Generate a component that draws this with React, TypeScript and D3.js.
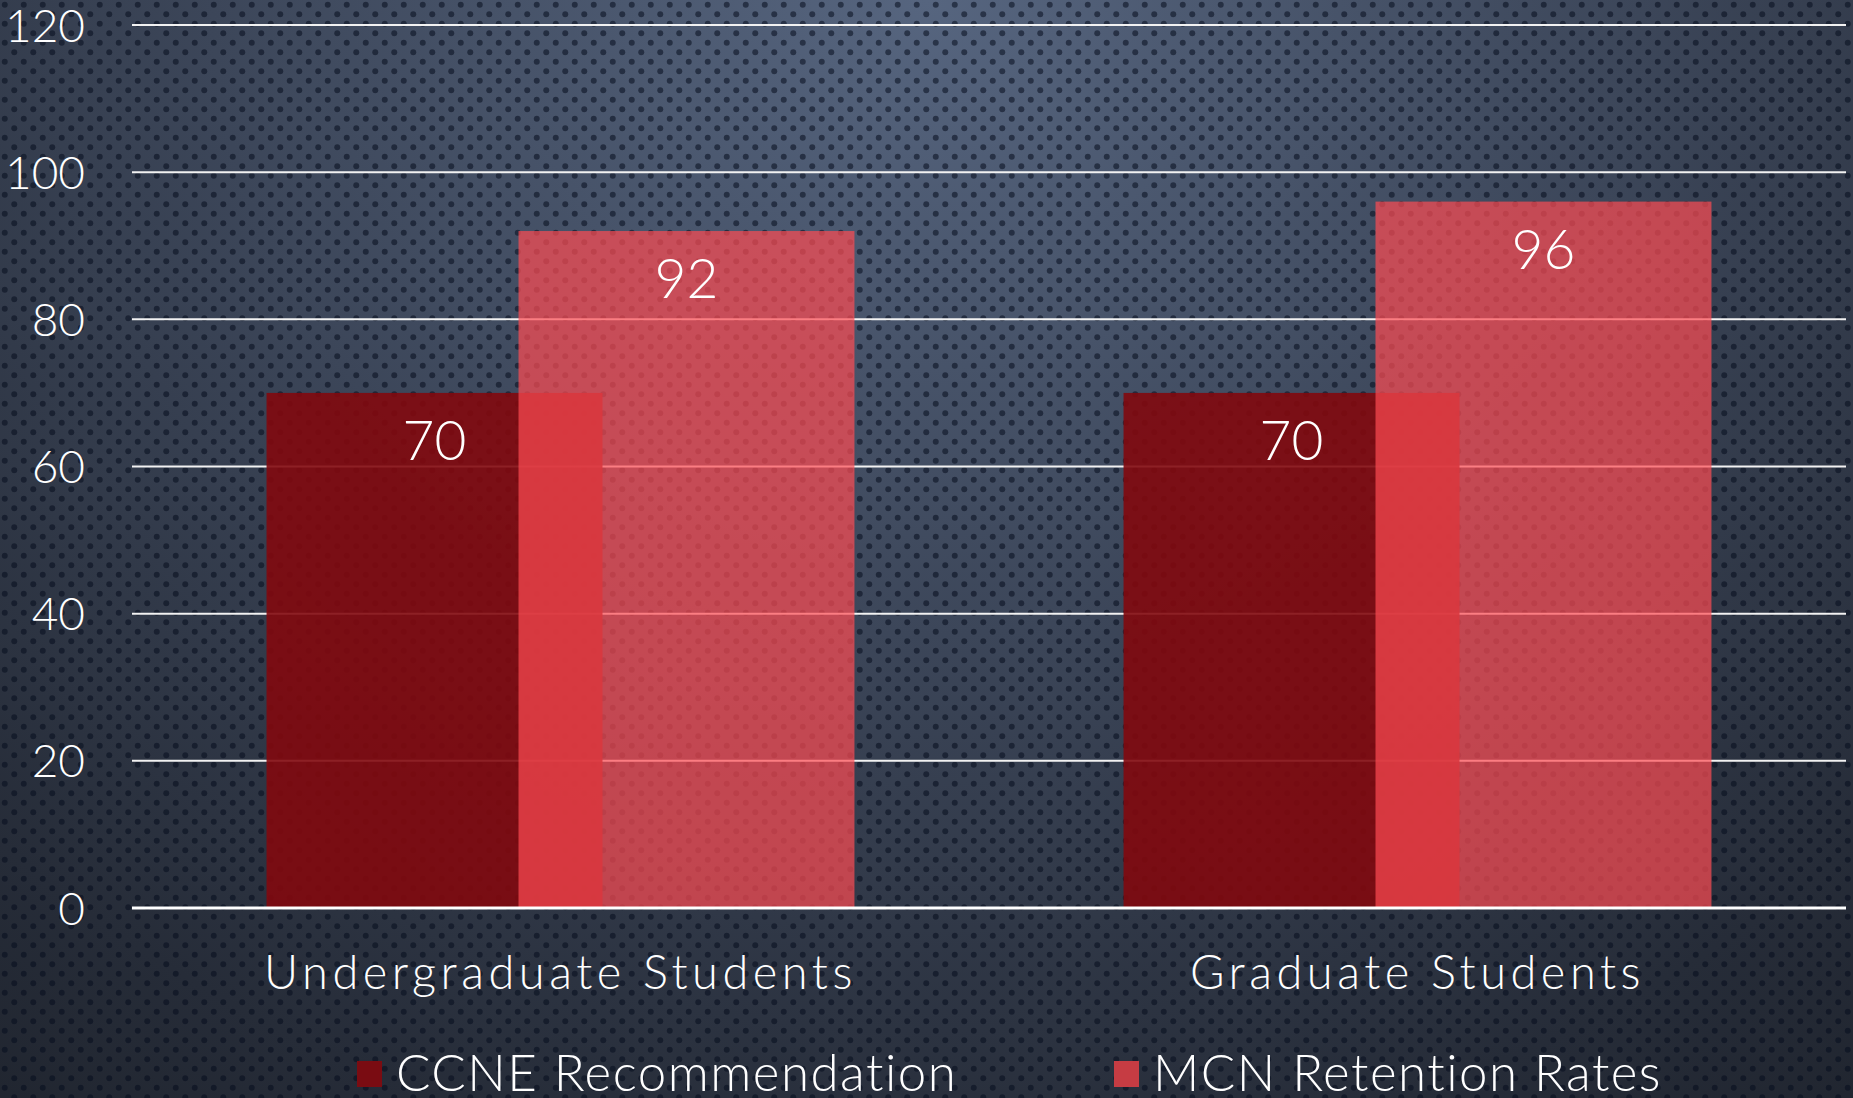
import React from "react";
import * as d3 from "d3";

const categories = ["Undergraduate Students", "Graduate Students"];
const seriesNames = ["CCNE Recommendation", "MCN Retention Rates"];
const ccneValues = [70, 70];
const mcnValues = [92, 96];
const yTicks = [0, 20, 40, 60, 80, 100, 120];

const W = 1853;
const H = 1098;
const FONT = "Lato, 'Open Sans', 'DejaVu Sans', sans-serif";

export default function App() {
  React.useEffect(() => {
    document.body.style.margin = "0";
    document.body.style.background = "#1a1d24";
  }, []);

  const x = d3.scaleBand<string>().domain(categories).range([132, 1846]).padding(0);
  const y = d3.scaleLinear().domain([0, 120]).range([908, 25]);
  const bw = x.bandwidth() * 0.392;
  const step = bw * 0.75;
  const groupW = bw + step;

  const series = [
    { name: seriesNames[0], values: ccneValues, idx: 0, fill: "rgb(130,9,14)", opacity: 0.9 },
    { name: seriesNames[1], values: mcnValues, idx: 1, fill: "rgb(255,76,82)", opacity: 0.7 },
  ];

  const barX = (cat: string, idx: number) =>
    (x(cat) as number) + x.bandwidth() / 2 - groupW / 2 + idx * step;

  const legendItems = [
    { name: seriesNames[0], sq: 357, fill: "#7a0c12" },
    { name: seriesNames[1], sq: 1114, fill: "#c63c43" },
  ];

  return (
    <svg width={W} height={H} style={{ position: "absolute", left: 0, top: 0, display: "block" }}>
      <defs>
        <radialGradient id="bg" cx="50%" cy="0%" r="110%" fx="50%" fy="0%" gradientUnits="objectBoundingBox"
          gradientTransform="translate(0.5 0) scale(1 1.5) translate(-0.5 0)">
          <stop offset="0" stopColor="#56657f" />
          <stop offset="0.35" stopColor="#3c4659" />
          <stop offset="0.65" stopColor="#262c38" />
          <stop offset="1" stopColor="#15181e" />
        </radialGradient>
        <pattern id="dots" width="19" height="19" patternUnits="userSpaceOnUse">
          <circle cx="4.75" cy="4.75" r="3" fill="rgba(5,12,30,0.55)" />
          <circle cx="14.25" cy="14.25" r="3" fill="rgba(5,12,30,0.55)" />
        </pattern>
      </defs>
      <rect x={0} y={0} width={W} height={H} fill="url(#bg)" />
      <rect x={0} y={0} width={W} height={H} fill="url(#dots)" />

      {yTicks.map((t) => (
        <g key={t}>
          {t !== 0 && (
            <line x1={132} x2={1846} y1={y(t)} y2={y(t)} stroke="#f2f2f2" strokeWidth={2} />
          )}
          <text x={85} y={y(t)} dy="0.36em" textAnchor="end" fill="#ffffff" fontFamily={FONT}
            fontSize={46} fontWeight={300}>
            {t}
          </text>
        </g>
      ))}

      {series.map((s) =>
        categories.map((c, i) => (
          <rect key={s.name + c} x={barX(c, s.idx)} y={y(s.values[i])} width={bw}
            height={y(0) - y(s.values[i])} fill={s.fill} fillOpacity={s.opacity} />
        ))
      )}

      <line x1={132} x2={1846} y1={y(0)} y2={y(0)} stroke="#ffffff" strokeWidth={3} />

      {series.map((s) =>
        categories.map((c, i) => (
          <text key={"l" + s.name + c} x={barX(c, s.idx) + bw / 2} y={y(s.values[i]) + 67}
            textAnchor="middle" fill="#ffffff" fontFamily={FONT} fontSize={55} fontWeight={300}>
            {s.values[i]}
          </text>
        ))
      )}

      {categories.map((c) => (
        <text key={"c" + c} x={(x(c) as number) + x.bandwidth() / 2} y={989} textAnchor="middle"
          fill="#ffffff" fontFamily={FONT} fontSize={47} fontWeight={300} letterSpacing={4.5}>
          {c}
        </text>
      ))}

      {legendItems.map((l) => (
        <g key={l.name}>
          <rect x={l.sq} y={1061} width={25} height={26} fill={l.fill} />
          <text x={l.sq + 39} y={1091} fill="#ffffff" fontFamily={FONT} fontSize={51}
            fontWeight={300} letterSpacing={1.5}>
            {l.name}
          </text>
        </g>
      ))}
    </svg>
  );
}
